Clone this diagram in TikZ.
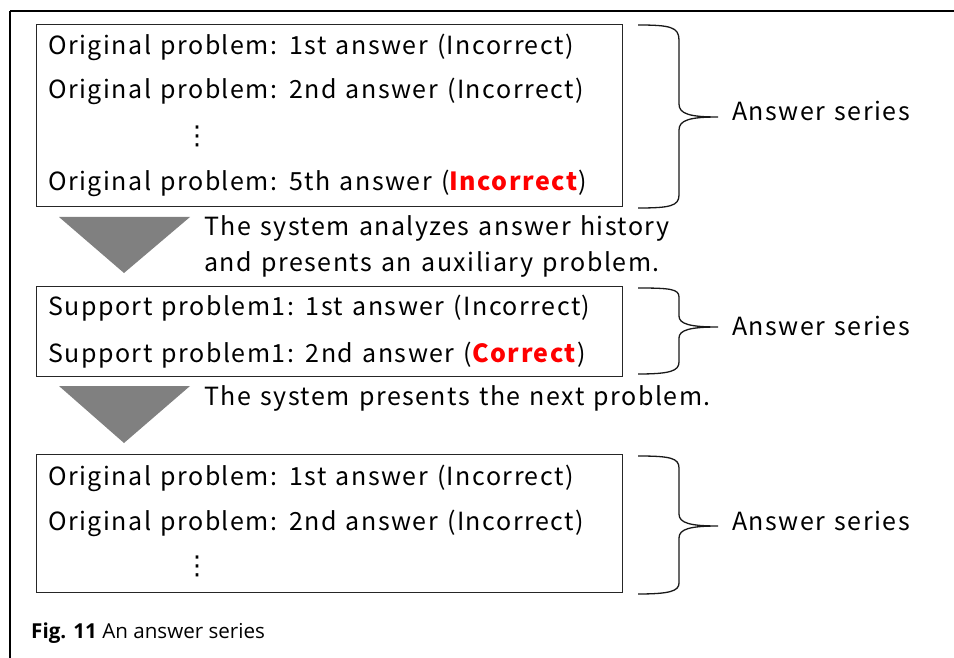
\documentclass[tikz,border=0pt]{standalone}
\usepackage{fontspec}
\setmainfont[LetterSpace=6, WordSpace=1.3]{Noto Sans CJK JP}
\newfontfamily\capfont{Open Sans}
\newfontfamily\dotfont{DejaVu Sans}
\definecolor{tri}{HTML}{808080}
\definecolor{hot}{HTML}{FF0000}
\tikzset{
  box/.style={draw=black!85, line width=1.3pt, rectangle, inner sep=0pt, anchor=north west},
  txt/.style={anchor=base west, inner sep=0pt, font=\fontsize{25}{30}\selectfont},
  lbl/.style={anchor=base west, inner sep=0pt, font=\fontsize{25}{30}\selectfont},
  dts/.style={anchor=center, inner sep=0pt, font=\dotfont\fontsize{26}{30}\selectfont},
  tri/.style={fill=tri, draw=none},
  brace/.style={draw=black!90, line width=1.3pt},
}
\newcommand{\bad}{(\textcolor{hot}{\textbf{Incorrect}})}
\newcommand{\good}{(\textcolor{hot}{\textbf{Correct}})}
\begin{document}
\begin{tikzpicture}[x=1pt,y=-1pt]
\useasboundingbox (0,0) rectangle (954,658);
% outer frame
\draw[line width=1.5pt] (10,11) -- (954,11);
\draw[line width=1.5pt] (10,11) -- (10,658);
% box 1
\node[box, minimum width=586pt, minimum height=182pt] (b1) at (36,24) {};
\node[txt] (b1l1) at (48,55) {Original problem: 1st answer (Incorrect)};
\node[txt] (b1l2) at (48,99) {Original problem: 2nd answer (Incorrect)};
\node[dts] (b1d) at (197,136) {⋮};
\node[txt] (b1l4) at (48,190) {Original problem: 5th answer \bad};
% brace 1
\draw[brace] (638,25) .. controls (670,25) and (679,27) .. (679,40) -- (679,104)
  .. controls (679,114) and (690,117) .. (718,117)
  .. controls (690,117) and (679,120) .. (679,130) -- (679,195)
  .. controls (679,206) and (670,208) .. (638,208);
\node[lbl] (a1) at (732,121) {Answer series};
% triangle 1
\fill[tri] (59,217) -- (190,217) -- (124,273) -- cycle;
\node[txt] (t1) at (204,236) {The system analyzes answer history};
\node[txt] (t2) at (204,271) {and presents an auxiliary problem.};
% box 2
\node[box, minimum width=586pt, minimum height=90pt] (b2) at (36,286) {};
\node[txt] (b2l1) at (48,315) {Support problem1: 1st answer (Incorrect)};
\node[txt] (b2l2) at (48,362) {Support problem1: 2nd answer \good};
\draw[brace] (638,288) .. controls (670,288) and (679,289) .. (679,297) -- (679,316)
  .. controls (679,324) and (690,327) .. (718,327)
  .. controls (690,327) and (679,330) .. (679,338) -- (679,362)
  .. controls (679,371) and (670,374) .. (638,374);
\node[lbl] (a2) at (732,335) {Answer series};
% triangle 2
\fill[tri] (59,386) -- (190,386) -- (124,443) -- cycle;
\node[txt] (t3) at (204,405) {The system presents the next problem.};
% box 3
\node[box, minimum width=586pt, minimum height=138pt] (b3) at (36,454) {};
\node[txt] (b3l1) at (48,485) {Original problem: 1st answer (Incorrect)};
\node[txt] (b3l2) at (48,530) {Original problem: 2nd answer (Incorrect)};
\node[dts] (b3d) at (197,566) {⋮};
\draw[brace] (638,456) .. controls (670,456) and (679,458) .. (679,468) -- (679,514)
  .. controls (679,523) and (690,526) .. (718,526)
  .. controls (690,526) and (679,529) .. (679,538) -- (679,583)
  .. controls (679,591) and (670,594) .. (638,594);
\node[lbl] (a3) at (732,530) {Answer series};
% caption
\node[anchor=base west, inner sep=0pt, font=\capfont\fontsize{20.6}{24}\selectfont] (cap) at (31,638) {\textbf{Fig. 11} An answer series};
\end{tikzpicture}
\end{document}
